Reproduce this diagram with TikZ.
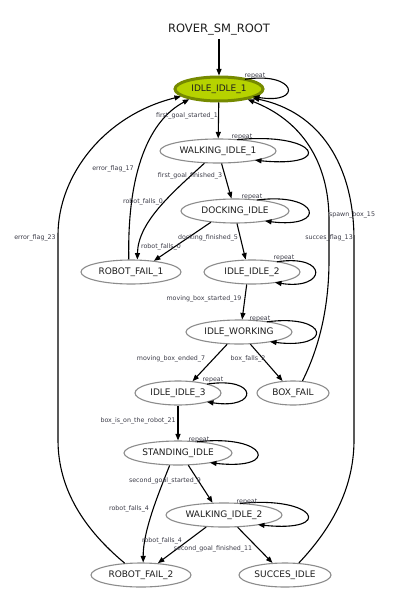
\documentclass[tikz,border=0pt]{standalone}
\usepackage{fontspec}
\setmainfont{DejaVu Sans}
\usetikzlibrary{arrows.meta,shapes.geometric,calc}
\definecolor{stgray}{RGB}{140,140,140}
\definecolor{txt}{RGB}{30,30,30}
\definecolor{lab}{RGB}{60,60,72}
\definecolor{limefill}{RGB}{182,210,0}
\definecolor{limedraw}{RGB}{118,138,0}
\begin{document}
\begin{tikzpicture}[x=1pt,y=-1pt,
  stnode/.style={ellipse, draw=stgray, line width=1.1pt, inner sep=0pt,
    minimum height=24pt, font=\fontsize{9}{10}\selectfont, text=txt},
  tr/.style={draw=black, line width=1.1pt, -{Triangle[length=6.5pt,width=5pt]}},
  elab/.style={font=\fontsize{6.3}{7}\selectfont, text=lab, inner sep=0pt},
]
\fill[white] (0,0) rectangle (408,604);
\useasboundingbox (0,0) rectangle (408,604);

% nodes
\node[font=\fontsize{11.5}{12}\selectfont, text=txt, inner sep=3pt] (root) at (219,30) {ROVER\_SM\_ROOT};
\node[stnode, fill=limefill, draw=limedraw, line width=3pt, minimum width=88pt] (ii1) at (219,89) {IDLE\_IDLE\_1};
\node[stnode, minimum width=116pt] (w1) at (218,151) {WALKING\_IDLE\_1};
\node[stnode, minimum width=108pt] (dock) at (235,211) {DOCKING\_IDLE};
\node[stnode, minimum width=100pt] (rf1) at (131,272) {ROBOT\_FAIL\_1};
\node[stnode, minimum width=96pt] (ii2) at (252,272) {IDLE\_IDLE\_2};
\node[stnode, minimum width=106pt] (iw) at (239,332) {IDLE\_WORKING};
\node[stnode, minimum width=86pt] (ii3) at (178,393) {IDLE\_IDLE\_3};
\node[stnode, minimum width=72pt] (bf) at (293,393) {BOX\_FAIL};
\node[stnode, minimum width=108pt] (si) at (178,453) {STANDING\_IDLE};
\node[stnode, minimum width=116pt] (w2) at (224,515) {WALKING\_IDLE\_2};
\node[stnode, minimum width=100pt] (rf2) at (141,575) {ROBOT\_FAIL\_2};
\node[stnode, minimum width=92pt] (sidle) at (285,575) {SUCCES\_IDLE};

% straight transitions
\draw[tr] (root.south) -- (ii1);
\draw[tr] (ii1) -- (w1);
\draw[tr] (w1) -- (dock);
\draw[tr] (dock.-155) -- (rf1.26);
\draw[tr] (dock.-81) -- (ii2.117);
\draw[tr] (ii2.-113) -- (iw.76);
\draw[tr] (iw.-134) -- (ii3.39);
\draw[tr] (iw.-47) -- (bf.131);
\draw[tr] (ii3) -- (si);
\draw[tr] (si.-50) -- (w2.133);
\draw[tr] (w2.-146) -- (rf2.35);
\draw[tr] (w2.-42) -- (sidle.136);

% curved transitions
\draw[tr] (w1.-138) .. controls (172,193) and (138,222) .. (rf1.63);
\draw[tr] (si.-124) .. controls (160,490) and (143,530) .. (rf2.80);
\draw[tr] (rf1.100) .. controls (127,170) and (150,120) .. (ii1.-161);
\draw[tr] (rf2.144) .. controls (85,530) and (58,490) .. (58,440) -- (58,235)
  .. controls (58,175) and (105,115) .. (ii1.-169);
\draw[tr] (bf.52) .. controls (318,350) and (329,310) .. (329,260) -- (329,220)
  .. controls (329,160) and (300,120) .. (ii1.-20);
\draw[tr] (sidle.41) .. controls (330,530) and (354,490) .. (354,440) -- (354,240)
  .. controls (354,165) and (320,112) .. (ii1.-15);

% self loops
\draw[tr] ($(ii1)+(26,-9.7)$) .. controls +(51,-8) and +(51,8) .. ($(ii1)+(34,7.6)$);
\draw[tr] ($(w1)+(19,-11.3)$) .. controls +(81,-8) and +(81,8) .. ($(w1)+(37,9.2)$);
\draw[tr] ($(dock)+(22,-11)$) .. controls +(63,-8) and +(63,8) .. ($(dock)+(30,10)$);
\draw[tr] ($(ii2)+(25,-10.2)$) .. controls +(52,-8) and +(52,8) .. ($(ii2)+(23,10.5)$);
\draw[tr] ($(iw)+(28,-10.2)$) .. controls +(63,-8) and +(63,8) .. ($(iw)+(31,9.7)$);
\draw[tr] ($(ii3)+(29,-8.9)$) .. controls +(52,-8) and +(52,8) .. ($(ii3)+(29,8.9)$);
\draw[tr] ($(si)+(19,-11.2)$) .. controls +(71,-8) and +(71,8) .. ($(si)+(32,9.7)$);
\draw[tr] ($(w2)+(16,-11.5)$) .. controls +(77,-8) and +(77,8) .. ($(w2)+(34,9.7)$);

% repeat labels
\node[elab] (r1) at (255,76) {repeat};
\node[elab] (r2) at (242,137) {repeat};
\node[elab] (r3) at (252,197) {repeat};
\node[elab] (r4) at (284,258) {repeat};
\node[elab] (r5) at (260,319) {repeat};
\node[elab] (r6) at (213,380) {repeat};
\node[elab] (r7) at (199,440) {repeat};
\node[elab] (r8) at (247,502) {repeat};

% transition labels
\node[elab] (l1) at (187,116) {first\_goal\_started\_1};
\node[elab] (l2) at (190,176) {first\_goal\_finished\_3};
\node[elab] (l3) at (143,202) {robot\_falls\_0};
\node[elab] (l4) at (208,238) {docking\_finished\_5};
\node[elab] (l5) at (161,247) {robot\_falls\_0};
\node[elab] (l6) at (113,169) {error\_flag\_17};
\node[elab] (l7) at (35,238) {error\_flag\_23};
\node[elab] (l8) at (352,215) {spawn\_box\_15};
\node[elab] (l9) at (329,238) {succes\_flag\_13};
\node[elab] (l10) at (204,299) {moving\_box\_started\_19};
\node[elab] (l11) at (171,359) {moving\_box\_ended\_7};
\node[elab] (l12) at (248,359) {box\_falls\_2};
\node[elab] (l13) at (138,421) {box\_is\_on\_the\_robot\_21};
\node[elab] (l14) at (165,481) {second\_goal\_started\_9};
\node[elab] (l15) at (129,509) {robot\_falls\_4};
\node[elab] (l16) at (162,541) {robot\_falls\_4};
\node[elab] (l17) at (213,549) {second\_goal\_finished\_11};
\end{tikzpicture}
\end{document}
